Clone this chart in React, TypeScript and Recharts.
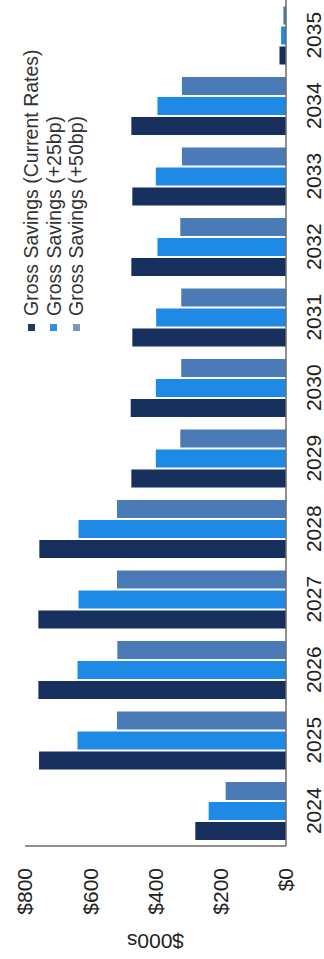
import React from 'react';
import { BarChart, Bar, XAxis, YAxis, Legend } from 'recharts';

// Chart is drawn in its natural orientation and then turned a quarter left,
// the way the source page has it printed sideways.
const W = 959;
const H = 324;
const FONT = '"Liberation Sans", Arial, sans-serif';

const years = ['2024', '2025', '2026', '2027', '2028', '2029', '2030', '2031', '2032', '2033', '2034', '2035'];
const currentRates = [278, 757, 759, 759, 756, 474, 476, 471, 474, 471, 474, 20];
const plus25bp = [237, 639, 639, 636, 636, 399, 399, 398, 394, 399, 394, 15];
const plus50bp = [185, 518, 517, 518, 518, 324, 321, 321, 324, 319, 319, 8];
const yTicks = [0, 200, 400, 600, 800];

const series = [
  { key: 'current', name: 'Gross Savings (Current Rates)', color: '#172f5c', marker: '#1f3762' },
  { key: 'p25', name: 'Gross Savings (+25bp)', color: '#1f8ae6', marker: '#2f90e4' },
  { key: 'p50', name: 'Gross Savings (+50bp)', color: '#4a7bb6', marker: '#7d96bd' },
];

const rows = years.map((year, i) => ({
  year,
  current: currentRates[i],
  p25: plus25bp[i],
  p50: plus50bp[i],
}));

// y axis title, upright relative to the axis
const AxisTitle = (props: any) => {
  const vb = props.viewBox || { x: 0, y: 0, height: 0 };
  const cx = vb.x + 18;
  const cy = vb.y + vb.height / 2;
  return (
    <text
      x={cx}
      y={cy}
      transform={`rotate(-90, ${cx}, ${cy})`}
      textAnchor="middle"
      dominantBaseline="central"
      fontSize={21}
      fontFamily={FONT}
      fill="#222"
    >
      $000s
    </text>
  );
};

const renderLegend = () => (
  <div style={{ fontFamily: FONT, fontSize: 19.5, color: '#333' }}>
    {series.map((s) => (
      <div key={s.key} style={{ display: 'flex', alignItems: 'center', height: 22.5, lineHeight: '22.5px', whiteSpace: 'nowrap' }}>
        <span style={{ display: 'inline-block', width: 7, height: 7, background: s.marker, marginRight: 8 }} />
        <span>{s.name}</span>
      </div>
    ))}
  </div>
);

const App: React.FC = () => {
  return (
    <div style={{ position: 'fixed', left: 0, top: 0, width: H, height: W, overflow: 'hidden', background: '#fff' }}>
      <div
        style={{
          position: 'absolute',
          left: 0,
          top: 0,
          width: W,
          height: H,
          transformOrigin: '0 0',
          transform: `translateY(${W}px) rotate(-90deg)`,
        }}
      >
        <BarChart
          width={W}
          height={H}
          data={rows}
          margin={{ top: 25, right: 0, bottom: 0, left: 0 }}
          barCategoryGap={6}
          barGap={2}
          style={{ fontFamily: FONT }}
        >
          <XAxis
            dataKey="year"
            height={38}
            interval={0}
            tickLine={false}
            tickMargin={14}
            axisLine={{ stroke: '#6a6a6a', strokeWidth: 1.5 }}
            tick={{ fontSize: 21, fill: '#222', fontFamily: FONT }}
          />
          <YAxis
            width={113}
            domain={[0, 800]}
            ticks={yTicks}
            tickFormatter={(v: number) => `$${v}`}
            tickLine={false}
            tickMargin={16}
            axisLine={{ stroke: '#6a6a6a', strokeWidth: 1.5 }}
            tick={{ fontSize: 21, fill: '#222', fontFamily: FONT }}
            label={<AxisTitle />}
          />
          <Legend
            layout="horizontal"
            verticalAlign="middle"
            align="center"
            content={renderLegend}
            wrapperStyle={{ left: 628, top: 20, width: 'auto', height: 'auto' }}
          />
          {series.map((s) => (
            <Bar key={s.key} dataKey={s.key} name={s.name} fill={s.color} isAnimationActive={false} />
          ))}
        </BarChart>
      </div>
    </div>
  );
};

export default App;
